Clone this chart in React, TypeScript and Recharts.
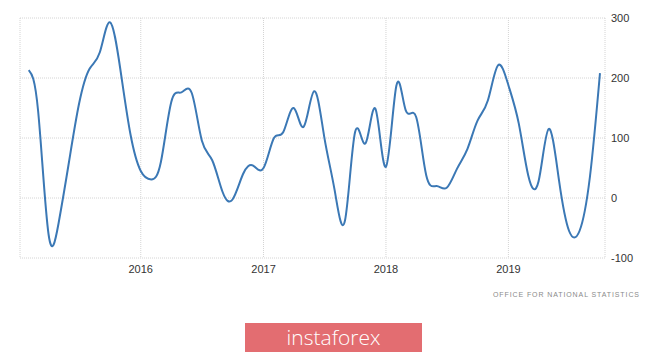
import React from "react";
import { CartesianGrid, Line, LineChart, XAxis, YAxis } from "recharts";

// monthly values, Feb 2015 .. Oct 2019 (thousands)
const values = [
  213, 145, -60, -42, 60, 157, 215, 243, 293, 215, 107,
  45, 31, 60, 160, 176, 175, 96, 63, 10, -2, 40, 54,
  50, 100, 110, 150, 119, 178, 102, 13, -37, 110, 91, 148,
  52, 187, 146, 135, 38, 20, 17, 49, 82, 129, 163, 221,
  188, 124, 38, 28, 115, 29, -55, -55, 35, 208,
];

const yearTicks = [2016, 2017, 2018, 2019];
const valueTicks = [-100, 0, 100, 200, 300];

const data = values.map((v, i) => ({ date: Date.UTC(2015, 1 + i, 1), value: v }));
const xTicks = yearTicks.map((y) => Date.UTC(y, 0, 1));

const font = "'Liberation Sans Narrow', 'Liberation Sans', Arial, sans-serif";

export default function App() {
  return (
    <div
      style={{
        position: "fixed",
        left: 0,
        top: 0,
        width: 665,
        height: 354,
        background: "#fff",
        fontFamily: font,
      }}
    >
      <LineChart
        width={665}
        height={285}
        data={data}
        margin={{ top: 18, right: 0, bottom: 0, left: 20 }}
      >
        <CartesianGrid stroke="#d4d4d4" strokeDasharray="1 1" />
        <XAxis
          dataKey="date"
          type="number"
          scale="time"
          domain={[Date.UTC(2015, 0, 6), Date.UTC(2019, 9, 16)]}
          ticks={xTicks}
          tickFormatter={(t) => String(new Date(t).getUTCFullYear())}
          axisLine={false}
          tickLine={false}
          tickSize={0}
          tickMargin={7}
          height={27}
          tick={{ fontSize: 11, fill: "#333", fontFamily: font }}
        />
        <YAxis
          orientation="right"
          domain={[-100, 300]}
          ticks={valueTicks}
          axisLine={false}
          tickLine={false}
          tickSize={0}
          tickMargin={6}
          width={60}
          tick={{ fontSize: 11, fill: "#333", fontFamily: font }}
        />
        <Line
          type="natural"
          dataKey="value"
          stroke="#3b78b5"
          strokeWidth={2}
          dot={false}
          isAnimationActive={false}
        />
      </LineChart>
      <div
        style={{
          position: "absolute",
          left: 493,
          top: 291,
          fontSize: 7,
          letterSpacing: 0.9,
          color: "#8a8a8a",
          fontFamily: "'Liberation Sans', Arial, sans-serif",
          whiteSpace: "nowrap",
        }}
      >
        OFFICE FOR NATIONAL STATISTICS
      </div>
      <div
        style={{
          position: "absolute",
          left: 245,
          top: 323,
          width: 177,
          height: 29,
          background: "#e36d71",
          color: "#fff",
          fontSize: 21,
          lineHeight: "29px",
          textAlign: "center",
          fontFamily: "'Open Sans', sans-serif",
          fontWeight: 300,
        }}
      >
        instaforex
      </div>
    </div>
  );
}
